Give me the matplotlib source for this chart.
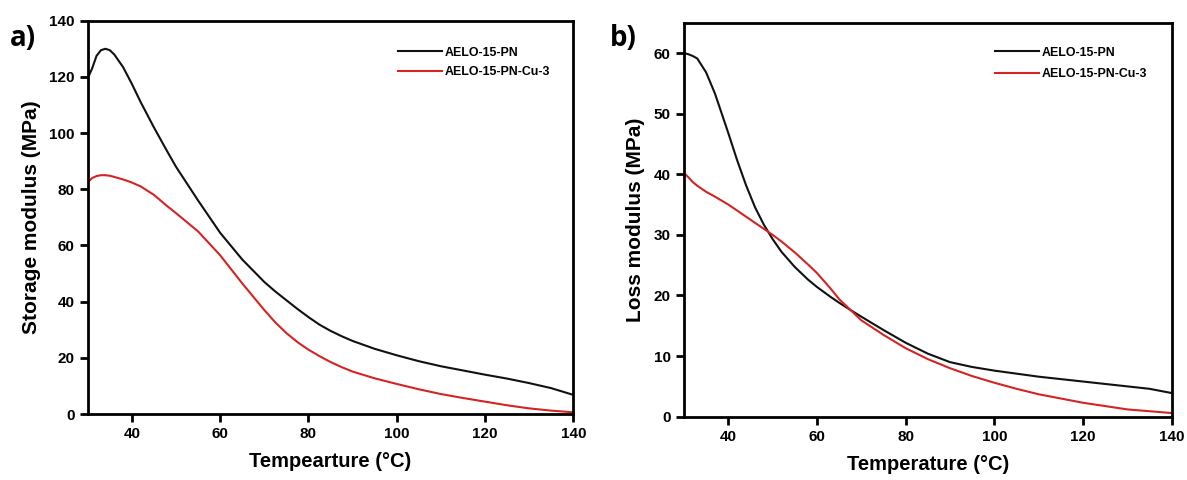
# DMA curves: storage and loss modulus of AELO-15-PN with and without Cu

import matplotlib.pyplot as plt

plt.rcParams['font.family'] = ['Liberation Sans', 'DejaVu Sans']
plt.rcParams['font.weight'] = 'bold'

# panel a) storage modulus
tempA = [30, 31, 32, 33, 34, 35, 36, 38, 40, 42, 45, 48, 50, 55, 60, 65, 70, 72.5, 75, 77.5,
         80, 82.5, 85, 87.5, 90, 95, 100, 105, 110, 115, 120, 125, 130, 135, 140]
storagePN = [119.5, 123, 127.5, 129.5, 130, 129.5, 128, 123.5, 117.5, 111, 102, 93.5, 88,
             76, 64.5, 55, 47, 43.6, 40.5, 37.4, 34.5, 31.8, 29.6, 27.7, 26, 23.2, 20.9,
             18.8, 17, 15.5, 14, 12.6, 11, 9.2, 6.8]
storageCu = [82.4, 84, 84.7, 85, 85, 84.8, 84.4, 83.5, 82.4, 81, 78, 74, 71.5, 65, 56.5,
             46.5, 37, 32.6, 28.8, 25.6, 22.9, 20.6, 18.5, 16.7, 15.1, 12.7, 10.7, 8.8, 7.1,
             5.7, 4.4, 3.1, 2, 1.2, 0.6]

# panel b) loss modulus
tempB = [30, 31, 32, 33, 35, 37, 40, 42, 44, 46, 48, 50, 52, 55, 58, 60, 63, 65, 68, 70, 75,
         80, 85, 90, 95, 100, 105, 110, 120, 130, 135, 140]
lossPN = [60, 59.8, 59.5, 59.1, 56.8, 53.3, 46.8, 42.3, 38.2, 34.6, 31.7, 29.3, 27.2, 24.7,
          22.6, 21.4, 19.8, 18.8, 17.4, 16.5, 14.3, 12.2, 10.4, 9.0, 8.2, 7.6, 7.1, 6.6,
          5.8, 5.0, 4.6, 3.9]
lossCu = [40.2, 39.5, 38.7, 38.1, 37.1, 36.3, 35.0, 34.0, 33.0, 32.0, 31.0, 30.0, 28.9, 27.1,
          25.1, 23.7, 21.2, 19.4, 17.3, 15.9, 13.5, 11.3, 9.5, 8.0, 6.7, 5.6, 4.6, 3.7, 2.3,
          1.2, 0.9, 0.6]

xTicks = [40, 60, 80, 100, 120, 140]
seriesNames = ['AELO-15-PN', 'AELO-15-PN-Cu-3']
black = '#111111'
red = '#d42424'


def styleAxes(ax, ylim, yticks, xlabel, ylabel):
    ax.set_xlim(30, 140)
    ax.set_ylim(*ylim)
    ax.set_xticks(xTicks)
    ax.set_yticks(yticks)
    for s in ax.spines.values():
        s.set_linewidth(2)
    ax.tick_params(direction='out', length=6, width=2, labelsize=11)
    for lab in ax.get_xticklabels() + ax.get_yticklabels():
        lab.set_fontweight('bold')
    ax.set_xlabel(xlabel, fontsize=14.5, fontweight='bold', labelpad=8)
    ax.set_ylabel(ylabel, fontsize=15, fontweight='bold', labelpad=6)


def addLegend(ax, anchor, spacing):
    ax.legend(loc='upper left', bbox_to_anchor=anchor, frameon=False,
              prop={'size': 8.9, 'weight': 'bold'}, handlelength=3.55,
              handletextpad=0.25, labelspacing=spacing, borderpad=0, borderaxespad=0)


fig = plt.figure(figsize=(11.87, 4.8), dpi=100)

ax1 = fig.add_axes([0.0739, 0.1375, 0.4091, 0.8194])
ax1.plot(tempA, storagePN, color=black, lw=1.5, label=seriesNames[0])
ax1.plot(tempA, storageCu, color=red, lw=1.5, label=seriesNames[1])
styleAxes(ax1, (0, 140), range(0, 141, 20), 'Tempearture (°C)', 'Storage modulus (MPa)')
addLegend(ax1, (0.639, 0.934), 0.6)

ax2 = fig.add_axes([0.5762, 0.1319, 0.4109, 0.8208])
ax2.plot(tempB, lossPN, color=black, lw=1.5, label=seriesNames[0])
ax2.plot(tempB, lossCu, color=red, lw=1.5, label=seriesNames[1])
styleAxes(ax2, (0, 65), range(0, 61, 10), 'Temperature (°C)', 'Loss modulus (MPa)')
addLegend(ax2, (0.638, 0.939), 0.75)

fig.text(0.008, 0.905, 'a)', fontsize=20, fontweight='bold', family='Open Sans')
fig.text(0.514, 0.905, 'b)', fontsize=20, fontweight='bold', family='Open Sans')

fig.savefig('out.png', dpi=100)
